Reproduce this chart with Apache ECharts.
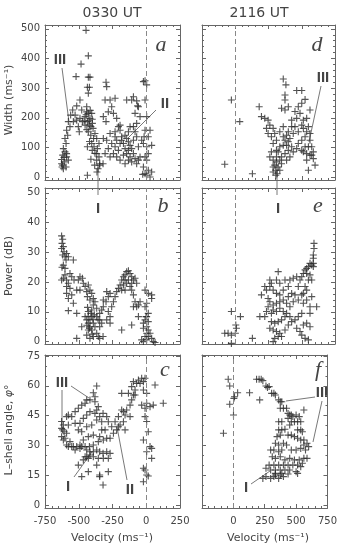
<!DOCTYPE html>
<html>
<head>
<meta charset="utf-8">
<script src="https://cdn.jsdelivr.net/npm/echarts@6/dist/echarts.min.js"></script>
<style>
  html, body { margin: 0; padding: 0; background: #fff; }
  #chart { width: 340px; height: 543px; }
</style>
</head>
<body>
<div id="chart"></div>
<script>
// tick labels
var widthTicks = [0, 100, 200, 300, 400, 500];
var powerTicks = [0, 10, 20, 30, 40, 50];
var angleTicks = [0, 15, 30, 45, 60, 75];
var velLeftTicks = [-750, -500, -250, 0, 250];
var velRightTicks = [0, 250, 500, 750];
var titles = ['0330 UT', '2116 UT'];

// 0330 UT : velocity vs width (a), power (b), L-shell angle (c)
var widthA = [[-446,495],[-429,409],[-483,381],[-520,339],[-429,337],[-417,337],[-298,320],[-436,303],[-421,303],[-429,283],[-9,325],[3,311],[-64,240],[-71,257],
  [-515,240],[-491,260],[-545,226],[-560,209],[-577,187],[-565,170],[-590,158],[-582,141],[-602,130],[-594,113],[-614,96],[-602,85],[-619,74],[-590,68],[-627,59],[-607,51],[-619,40],[-594,34],[-614,28],[-627,45],[-577,57],[-609,66],[-590,79],[-624,34],
  [-478,226],[-441,220],[-453,204],[-429,215],[-417,198],[-404,215],[-436,187],[-421,175],[-453,175],[-399,181],[-394,164],[-429,153],[-411,141],[-380,147],[-367,130],[-436,102],[-404,113],[-387,102],[-362,96],[-350,113],[-367,79],[-350,68],[-367,57],[-345,45],[-357,28],[-365,17],[-436,6],[-345,40],[-382,40],[-320,45],
  [-491,198],[-515,192],[-527,209],[-540,187],
  [-293,305],[-268,260],[-305,260],[-256,237],[-231,266],[-281,220],[-318,204],[-298,187],[-243,215],[-219,198],[-194,175],[-206,170],[-231,153],[-268,147],[-293,124],[-318,130],[-256,113],[-281,96],[-305,79],[-268,68],[-231,102],[-206,90],[-243,79],[-219,68],[-194,113],[-182,124],
  [-157,141],[-145,130],[-132,119],[-120,107],[-169,113],[-157,96],[-132,90],[-108,96],[-95,79],[-145,79],[-169,74],[-120,68],[-83,62],[-108,51],[-71,45],[-132,57],[-194,57],[-157,45],[-95,124],[-71,136],[-58,102],[-83,153],[-95,170],[-132,153],[-120,170],[-194,158],[-182,136],[-219,124],[-231,136],
  [-108,260],[-95,271],[-83,215],[-58,237],[-145,260],[-46,204],[-71,181],
  [-21,322],[-9,260],[3,204],[-9,158],[15,136],[-21,113],[3,102],[28,158],[40,107],[15,79],[-9,68],[3,57],[-21,34],[-9,11],[-26,9],[3,6],[15,23],[28,0],[40,17],[-16,136],[-34,124],[-46,68],[-58,57],
  [-503,170],[-496,153],[-473,187],[-441,237],
  [-445,210],[-425,190],[-410,170],[-440,160],[-400,195],[-460,190],[-415,225],[-390,130],[-420,120],[-400,90],[-380,80],[-410,60]];

var powerB = [[-627,35.5],[-619,34.4],[-624,33],[-614,31.9],[-627,31.3],[-609,30.2],[-619,29.1],[-602,28.5],[-590,29.6],[-577,28.5],[-594,27.4],[-540,27.4],[-614,25.7],[-624,25],[-602,24.6],[-614,21.3],[-627,20.7],[-590,20.7],[-602,22.4],[-565,22.9],[-577,19.6],[-590,18.5],[-565,17.9],[-590,16.2],[-577,14.5],[-552,15.7],[-540,12.9],[-577,10.4],[-515,9.5],[-515,1.1],
  [-552,21.8],[-535,20.7],[-503,20.7],[-491,21.8],[-473,21.3],[-515,17.3],[-491,17.3],[-466,19.6],[-453,18.5],[-441,16.8],[-429,19],[-417,17.3],[-404,16.2],[-436,15.1],[-417,14],[-392,14.5],[-380,13.4],[-392,12.3],[-367,11.2],[-404,10.6],[-429,10.1],[-478,5],[-453,8.4],[-441,7.3],[-429,6.2],[-417,7.3],[-417,5],[-404,8.4],[-392,6.2],[-380,5],[-404,3.9],[-429,3.9],[-441,2.2],[-417,1.1],[-392,1.7],[-355,1.7],[-367,2.8],[-345,1.1],[-320,1.7],[-345,5],[-357,7.3],[-367,8.4],[-345,9.5],[-330,10.6],[-318,11.7],[-298,13.4],[-281,15.1],[-293,16.8],[-318,14],[-268,16.2],[-345,7.3],[-330,6.2],[-268,8.4],[-268,6.2],[-293,7.3],[-281,10.1],[-256,11.7],[-243,13.4],[-231,15.1],[-219,16.8],[-206,17.9],[-194,19],[-182,20.7],[-169,21.8],[-157,22.4],[-145,23.5],[-132,23.8],[-120,22.9],[-108,21.8],[-95,20.7],[-83,21.3],[-71,19.6],[-108,19.6],[-120,18.5],[-132,20.7],[-145,19.6],[-157,20.7],[-169,19],[-182,17.3],[-157,17.3],[-108,17.3],[-95,15.7],[-83,13.4],[-58,12.3],[-71,11.7],[-46,13.4],[-95,11.7],[-108,5.6],[-182,3.9],[-58,8.4],
  [-9,17.3],[15,16.2],[40,15.7],[40,14.5],[3,12.9],[-9,11.7],[15,9.5],[3,8.4],[-9,7.3],[-21,6.2],[15,6.7],[3,5],[-21,4.5],[15,3.9],[3,2.8],[28,2.8],[-9,1.7],[-34,0.6],[-21,0],[3,0.6],[40,1.1],[52,0],[65,-0.3],[15,1.7],[-2,8.4],
  [-430,8.5],[-410,9.5],[-395,7.5],[-420,4.5],[-440,5.5],[-400,2.5],[-385,9],[-435,11.5]];

var angleC = [[-627,42],[-614,40.3],[-627,38.6],[-619,37.8],[-609,36.9],[-627,34.4],[-602,33.6],[-590,30.2],[-577,29.4],[-565,31.9],[-552,29.4],[-540,29.4],[-590,36.1],[-577,40.3],[-590,44.5],[-577,45.3],[-552,44.5],[-527,47],[-503,48.7],[-478,50.3],[-453,51.2],[-417,52.9],[-380,54.5],[-392,56.5],[-367,59.9],[-441,52.9],[-380,52],
  [-527,41.1],[-491,41.1],[-466,43.6],[-441,45.3],[-417,47],[-380,46.1],[-367,47.8],[-355,49.5],[-345,44.5],[-320,46.1],[-503,37.8],[-478,36.9],[-441,39.4],[-404,40.3],[-367,42.8],[-330,41.9],[-293,44.5],[-281,41.9],[-305,37.8],[-330,37.8],[-345,34.4],[-392,35.2],[-429,34.4],[-466,32.7],[-491,30.2],[-527,27.7],[-491,28.5],[-453,29.4],[-421,29.4],[-392,30.2],[-355,31.9],[-318,32.7],[-293,33.6],[-268,33.6],[-243,36.1],[-219,37.8],[-194,40.3],[-169,41.9],[-157,45.3],[-145,47.8],[-120,50.3],[-108,52.9],[-95,55.4],[-83,57.9],[-71,61.2],[-58,62.9],[-34,63.8],[-9,63.8],[-21,62.1],[-46,61.2],[-95,62.1],[-108,59.6],[-83,55.4],[-132,56.2],[-182,47.8],[-206,44.5],[-231,41.9],[-256,39.4],[-206,39.4],[-169,47],[-120,44.5],[-157,37.8],[-182,56.2],
  [-515,29.4],[-478,29.4],[-441,27.7],[-417,26.8],[-441,24.3],[-417,25.2],[-392,26.8],[-367,27.7],[-345,26.8],[-320,26],[-293,26.8],[-268,26],[-281,23.5],[-318,23.5],[-355,23.5],[-392,24.3],[-429,23.5],[-466,22.7],[-367,20.1],[-429,16.8],[-345,14.3],[-320,10.1],[-281,16.8],[-345,15.1],[-503,20.1],[-453,24.3],
  [-21,57.9],[3,56.2],[65,60.4],[3,51.2],[-9,48.7],[-34,50.3],[28,49.5],[52,50.3],[126,51.2],[-9,44.5],[3,42],[15,36.9],[-21,32.7],[28,29.4],[40,28.5],[3,26.8],[40,23.5],[-21,18.5],[-9,17.6],[3,15.1],[15,14.6],[-21,11.7],[-478,14.3],[-614,32.7]];

// 2116 UT : velocity vs width (d), power (e), L-shell angle (f)
var widthD = [[-29,260],[34,187],[-79,43],[129,11],[361,331],[381,311],[374,277],[374,260],[348,232],[374,226],[399,237],[462,292],[500,292],[525,262],[500,249],[474,237],[449,221],[487,215],[462,198],[512,192],[562,226],[537,198],[180,237],[197,204],[222,198],[247,192],[260,175],[235,164],[285,164],[247,147],[272,136],[297,147],[310,124],[285,113],[335,153],[361,170],[386,141],[374,124],[399,119],[361,107],[335,102],[310,90],[272,85],[260,68],[285,57],[310,51],[297,40],[323,34],[305,23],[315,11],[335,23],[348,68],[374,79],[399,90],[424,102],[436,85],[462,96],[474,113],[500,124],[525,136],[537,153],[550,170],[512,164],[562,124],[575,102],[587,85],[575,74],[587,62],[600,40],[562,74],[537,57],[550,23],[512,85],[411,68],[386,57],[348,45],[285,34],[411,130],[436,147],[474,153],[500,175],[449,170],[424,192],[424,170],[399,153],[361,136],[386,107],[550,102],[562,147],[525,102],[500,90],[537,79],[310,68],[323,85],[335,57],[285,17],[305,6]];

var powerE = [[-79,2.8],[-54,2.8],[-29,2.2],[1,2.8],[9,4.5],[4,5.6],[-29,10.1],[39,8.4],[-29,-0.6],[129,1.1],[185,8.4],[222,8.4],[197,15.7],[222,18.5],[260,20.7],[235,17.3],[247,14.5],[272,19.6],[285,17.3],[310,20.7],[323,23.5],[335,19.6],[310,16.2],[335,15.7],[374,20.7],[399,18.5],[411,20.7],[436,21.3],[462,21.8],[487,20.7],[474,18.5],[500,21.8],[512,22.9],[525,24.1],[537,24.6],[550,25.2],[562,26.3],[575,25.7],[587,25.2],[587,26.3],[587,28],[587,29.1],[592,31.3],[592,33],[537,22.9],[562,22.4],[575,20.7],[550,20.7],[525,18.5],[512,16.2],[537,14],[562,11.7],[575,15.1],[537,17.3],[500,15.7],[474,14],[449,15.7],[424,16.2],[436,13.4],[411,11.7],[386,12.9],[361,14],[335,13.4],[310,12.9],[285,12.3],[260,13.4],[285,10.6],[310,10.1],[335,11.2],[361,10.1],[374,8.4],[348,7.3],[323,6.7],[297,6.2],[272,6.7],[260,4.5],[285,3.9],[310,3.4],[335,2.8],[323,1.7],[297,1.1],[285,0],[348,1.7],[374,3.9],[399,5.6],[424,6.7],[449,7.3],[474,8.4],[500,9.5],[512,5.6],[537,6.2],[562,5],[500,2.2],[525,1.1],[550,0.6],[462,4.5],[487,3.4],[386,9.5],[411,8.4],[399,15.1],[361,17.3],[247,11.7],[272,9.5],[235,10.1],[260,18.5],[612,11.7],[562,9.5],[512,12.9]];

var angleF = [[-41,63.3],[-29,59.9],[9,54.5],[34,56.5],[4,53.7],[-29,50.7],[1,45.3],[-79,36.1],[129,56.5],[210,52.9],
  [185,63.3],[205,63.3],[222,63.3],[235,62.6],[260,59.9],[272,59.2],[285,59.6],[305,56.2],[323,56.2],[335,55.4],[361,52.9],[374,52],[386,52],[374,48.7],[399,48.7],[424,48.7],[436,46.1],[449,45.3],[462,45.3],[474,44.5],[500,45.3],[525,44.5],[562,47.8],[436,43.6],[462,41.9],[487,41.9],[512,41.9],[537,41.9],[361,41.9],[386,41.9],[361,37.8],[386,37.8],[411,38.1],[449,40.3],[512,37.8],[537,37.8],[550,36.9],[348,34.4],[374,35.2],[436,35.2],[462,35.2],[487,34.4],[512,33.6],[537,32.7],[562,32.7],[587,31.1],[600,29.4],[562,30.2],[335,31.1],[361,30.2],[399,31.1],[424,30.2],[462,27.7],[500,27.7],[537,28.5],[575,27.7],[297,27.7],[323,27.7],[361,26.8],[386,27.7],[310,24.3],[335,23.5],[374,24.3],[411,22.7],[449,23.5],[487,22.7],[525,22.7],[562,23.5],[587,23.5],[285,20.1],[323,20.1],[361,20.1],[399,20.1],[436,20.1],[474,20.1],[512,20.1],[550,21],[260,18.5],[297,17.6],[335,17.6],[374,17.6],[411,17.6],[449,17.6],[500,16.8],[537,19.3],[235,13.4],[260,14.3],[297,13.4],[323,14.3],[335,15.1],[374,15.1],[399,14.3],[386,15.9],[436,15.6],[512,15.9],[335,15.9],[361,13.4]];

var frameColor = '#666';
var textColor = '#444';
var markColor = '#2a2a2a';
var plusPath = 'path://M0,4.2H10V5.8H0ZM4.2,0H5.8V10H4.2Z';

function steps(from, to, step) {
  var out = [];
  for (var v = from; v <= to + 1e-9; v += step) out.push(Math.round(v * 100) / 100);
  return out;
}

var panels = [
  { grid: { left: 45, top: 25, width: 135, height: 155 }, x: [-750, 250], y: [-10, 513], yMajor: widthTicks, yMinor: steps(0, 500, 20), data: widthA, xLabels: null, yLabels: true },
  { grid: { left: 45, top: 188, width: 135, height: 156 }, x: [-750, 250], y: [-0.8, 51.6], yMajor: powerTicks, yMinor: steps(0, 50, 2), data: powerB, xLabels: null, yLabels: true },
  { grid: { left: 45, top: 355, width: 135, height: 153 }, x: [-750, 250], y: [-1.5, 75.5], yMajor: angleTicks, yMinor: steps(0, 75, 5), data: angleC, xLabels: velLeftTicks, yLabels: true },
  { grid: { left: 202, top: 25, width: 133, height: 155 }, x: [-250, 750], y: [-10, 513], yMajor: widthTicks, yMinor: steps(0, 500, 20), data: widthD, xLabels: null, yLabels: false },
  { grid: { left: 202, top: 188, width: 133, height: 156 }, x: [-250, 750], y: [-0.8, 51.6], yMajor: powerTicks, yMinor: steps(0, 50, 2), data: powerE, xLabels: null, yLabels: false },
  { grid: { left: 202, top: 355, width: 133, height: 153 }, x: [-250, 750], y: [-1.5, 75.5], yMajor: angleTicks, yMinor: steps(0, 75, 5), data: angleF, xLabels: velRightTicks, yLabels: false }
];

var grids = [], xAxes = [], yAxes = [], series = [];
var tickStyle = { color: frameColor, width: 1 };
var labelStyle = { color: textColor, fontSize: 10, fontFamily: 'DejaVu Sans' };

panels.forEach(function (p, i) {
  grids.push(p.grid);
  ['bottom', 'top'].forEach(function (pos) {
    var showLab = pos === 'bottom' && p.xLabels !== null;
    xAxes.push({
      gridIndex: i, type: 'value', position: pos, min: p.x[0], max: p.x[1], interval: 250,
      axisLine: { onZero: false, lineStyle: tickStyle },
      axisTick: { inside: true, length: 4, lineStyle: tickStyle },
      minorTick: { show: true, splitNumber: 5, length: 2, lineStyle: tickStyle },
      splitLine: { show: false },
      axisLabel: showLab ? Object.assign({ show: true, margin: 8, customValues: p.xLabels }, labelStyle) : { show: false }
    });
  });
  ['left', 'right'].forEach(function (pos) {
    var showLab = pos === 'left' && p.yLabels;
    yAxes.push({
      gridIndex: i, type: 'value', position: pos, min: p.y[0], max: p.y[1],
      axisLine: { onZero: false, lineStyle: tickStyle },
      axisTick: { inside: true, length: 4, customValues: p.yMajor, lineStyle: tickStyle },
      splitLine: { show: false },
      axisLabel: showLab ? Object.assign({ show: true, margin: 5, customValues: p.yMajor }, labelStyle) : { show: false }
    });
    // minor ticks only
    yAxes.push({
      gridIndex: i, type: 'value', position: pos, min: p.y[0], max: p.y[1],
      axisLine: { show: false, onZero: false },
      axisTick: { inside: true, length: 2, customValues: p.yMinor, lineStyle: tickStyle },
      splitLine: { show: false },
      axisLabel: { show: false }
    });
  });
  series.push({
    type: 'scatter', xAxisIndex: 2 * i, yAxisIndex: 4 * i, data: p.data,
    symbol: plusPath, symbolSize: 7, silent: true,
    itemStyle: { color: markColor },
    markLine: {
      silent: true, symbol: 'none', label: { show: false }, animation: false,
      lineStyle: { color: '#888', type: [5, 3], width: 1 },
      data: [{ xAxis: 0 }]
    }
  });
});

// annotations: titles, axis names, panel letters, region numerals
var graphic = [];
function txt(x, y, text, font, extra) {
  graphic.push({ type: 'text', x: x, y: y, rotation: (extra && extra.rot) || 0, silent: true,
    style: Object.assign({ text: text, font: font, fill: textColor, align: 'center', verticalAlign: 'middle' }, (extra && extra.style) || {}) });
}
function seg(x1, y1, x2, y2) {
  graphic.push({ type: 'line', silent: true, shape: { x1: x1, y1: y1, x2: x2, y2: y2 }, style: { stroke: '#555', lineWidth: 0.8 } });
}

txt(112, 13, titles[0], '14px "DejaVu Sans"');
txt(259, 13, titles[1], '14px "DejaVu Sans"');
txt(112, 538, 'Velocity (ms⁻¹)', '11px "DejaVu Sans"');
txt(268, 538, 'Velocity (ms⁻¹)', '11px "DejaVu Sans"');
txt(9, 100, 'Width (ms⁻¹)', '11px "DejaVu Sans"', { rot: Math.PI / 2 });
txt(9, 266, 'Power (dB)', '11px "DejaVu Sans"', { rot: Math.PI / 2 });
txt(9, 430, 'L–shell angle, {i|φ}°', '11px "DejaVu Sans"', { rot: Math.PI / 2,
  style: { rich: { i: { fontStyle: 'italic', fontSize: 11, fontFamily: 'DejaVu Sans', fill: textColor } } } });

var letterFont = 'italic 22px "Liberation Serif"';
txt(161, 45, 'a', letterFont); txt(163, 206, 'b', letterFont); txt(165, 370, 'c', letterFont);
txt(317, 45, 'd', letterFont); txt(318, 206, 'e', letterFont); txt(318, 370, 'f', letterFont);

var numFont = 'bold 15px "Liberation Sans"';
// panel a
txt(60, 60, 'III', numFont); seg(62, 68, 69, 122);
txt(165, 104, 'II', numFont); seg(156, 110, 128, 138);
seg(98, 167, 98, 195); txt(98, 209, 'I', numFont);
// panel d
txt(323, 78, 'III', numFont); seg(321, 86, 309, 142);
seg(277, 165, 277, 195); txt(278, 209, 'I', numFont);
// panel c
txt(62, 383, 'III', numFont); seg(71, 386, 89, 398); seg(62, 390, 62, 425);
txt(68, 487, 'I', numFont); seg(74, 477, 92, 452);
txt(130, 490, 'II', numFont); seg(127, 480, 117, 427);
// panel f
txt(322, 393, 'III', numFont); seg(315, 397, 286, 401); seg(322, 401, 313, 442);
txt(246, 488, 'I', numFont); seg(251, 484, 270, 471);

var chart = echarts.init(document.getElementById('chart'));
chart.setOption({
  animation: false,
  backgroundColor: '#fff',
  grid: grids,
  xAxis: xAxes,
  yAxis: yAxes,
  series: series,
  graphic: graphic
});
</script>
</body>
</html>
